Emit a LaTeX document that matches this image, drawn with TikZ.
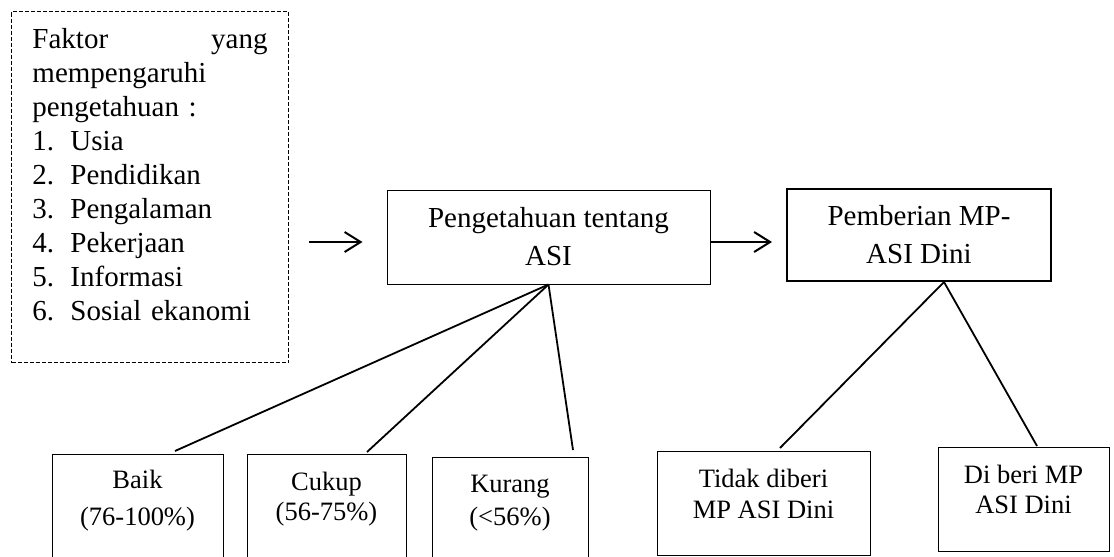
\documentclass[tikz,border=0pt]{standalone}
\usepackage{fontspec}
\setmainfont{Liberation Serif}
\usetikzlibrary{positioning,calc,arrows.meta}

\newcommand{\listnum}[1]{\makebox[19pt][l]{#1}}

\begin{document}
\begin{tikzpicture}[x=0.5pt,y=-0.5pt,line width=0.5pt,
    >={Straight Barb[length=8pt,width=10pt]}]
    \tikzset{
        mainbox/.style={
            draw,
            inner sep=0pt,
            align=center,
            font=\fontsize{14.5}{19}\selectfont
        },
        subbox/.style={
            draw,
            anchor=north,
            minimum height=53pt
        },
        subtext/.style={
            inner sep=0pt,
            align=center,
            font=\fontsize{13.25}{#1}\selectfont
        },
        faktortext/.style={
            inner sep=0pt,
            text width=117.5pt,
            align=left,
            font=\fontsize{14.5}{17}\selectfont
        },
        branch/.style={line width=0.9pt},
        flow/.style={->, line width=1pt}
    }

    \useasboundingbox (0,0) rectangle (1114,557);

    % Faktor box
    \node[draw, dash pattern=on 2pt off 1pt, anchor=north west,
        minimum width=138.5pt, minimum height=175.5pt] (faktor) at (11,11) {};
    \node[faktortext, below right=8.6pt and 10.5pt of faktor.north west] (faktortxt) {%
        Faktor\hfill yang\\
        mempengaruhi\\
        pengetahuan :\\
        \listnum{1.}Usia\\
        \listnum{2.}Pendidikan\\
        \listnum{3.}Pengalaman\\
        \listnum{4.}Pekerjaan\\
        \listnum{5.}Informasi\\
        \listnum{6.}Sosial ekanomi};

    % Main boxes
    \node[mainbox, minimum width=161.5pt, minimum height=47pt] (peng) at (548.5,237) {Pengetahuan tentang\\ASI};
    \node[mainbox, line width=1pt, minimum width=132pt, minimum height=46pt] (pemb) at (919,235) {Pemberian MP-\\ASI Dini};

    \coordinate (flowline) at (0,242);
    \draw[flow, shorten <=10pt, shorten >=12pt] (faktor.east |- flowline) -- (peng.west |- flowline);
    \draw[flow, shorten >=7pt] (peng.east |- flowline) -- (pemb.west |- flowline);

    % Pengetahuan levels
    \node[subbox, minimum width=85.5pt] (baik) at (137.5,454) {};
    \node[subtext=18.5, below=8pt of baik.north] (baiktxt) {Baik\\(76-100\%)};
    \node[subbox, minimum width=79.5pt] (cukup) at (326.5,454) {};
    \node[subtext=15, below=9pt of cukup.north] (cukuptxt) {Cukup\\(56-75\%)};
    \node[subbox, minimum width=78pt, minimum height=51.5pt] (kurang) at (510,457) {};
    \node[subtext=16.5, below=8.7pt of kurang.north] (kurangtxt) {Kurang\\(\textless56\%)};

    \draw[branch] (peng.south) -- ($(baik.north)+(37.5,-3)$);
    \draw[branch] (peng.south) -- ($(cukup.north)+(40.5,-2)$);
    \draw[branch] (peng.south) -- ($(kurang.north)+(63,-7)$);

    % MP-ASI outcomes
    \node[subbox, minimum width=106.5pt, minimum height=52pt] (tidak) at (763.5,451) {};
    \node[subtext=15.5, below=9pt of tidak.north] (tidaktxt) {Tidak diberi\\MP ASI Dini};
    \node[subbox, minimum width=85.5pt, minimum height=52pt] (diberi) at (1023.5,447) {};
    \node[subtext=15, below=9pt of diberi.north] (diberitxt) {Di beri MP\\ASI Dini};

    \coordinate (pembfoot) at ($(pemb.south)+(25,0)$);
    \draw[branch] (pembfoot) -- ($(tidak.north)+(16.5,-3)$);
    \draw[branch] (pembfoot) -- ($(diberi.north)+(13.5,-1)$);
\end{tikzpicture}
\end{document}
